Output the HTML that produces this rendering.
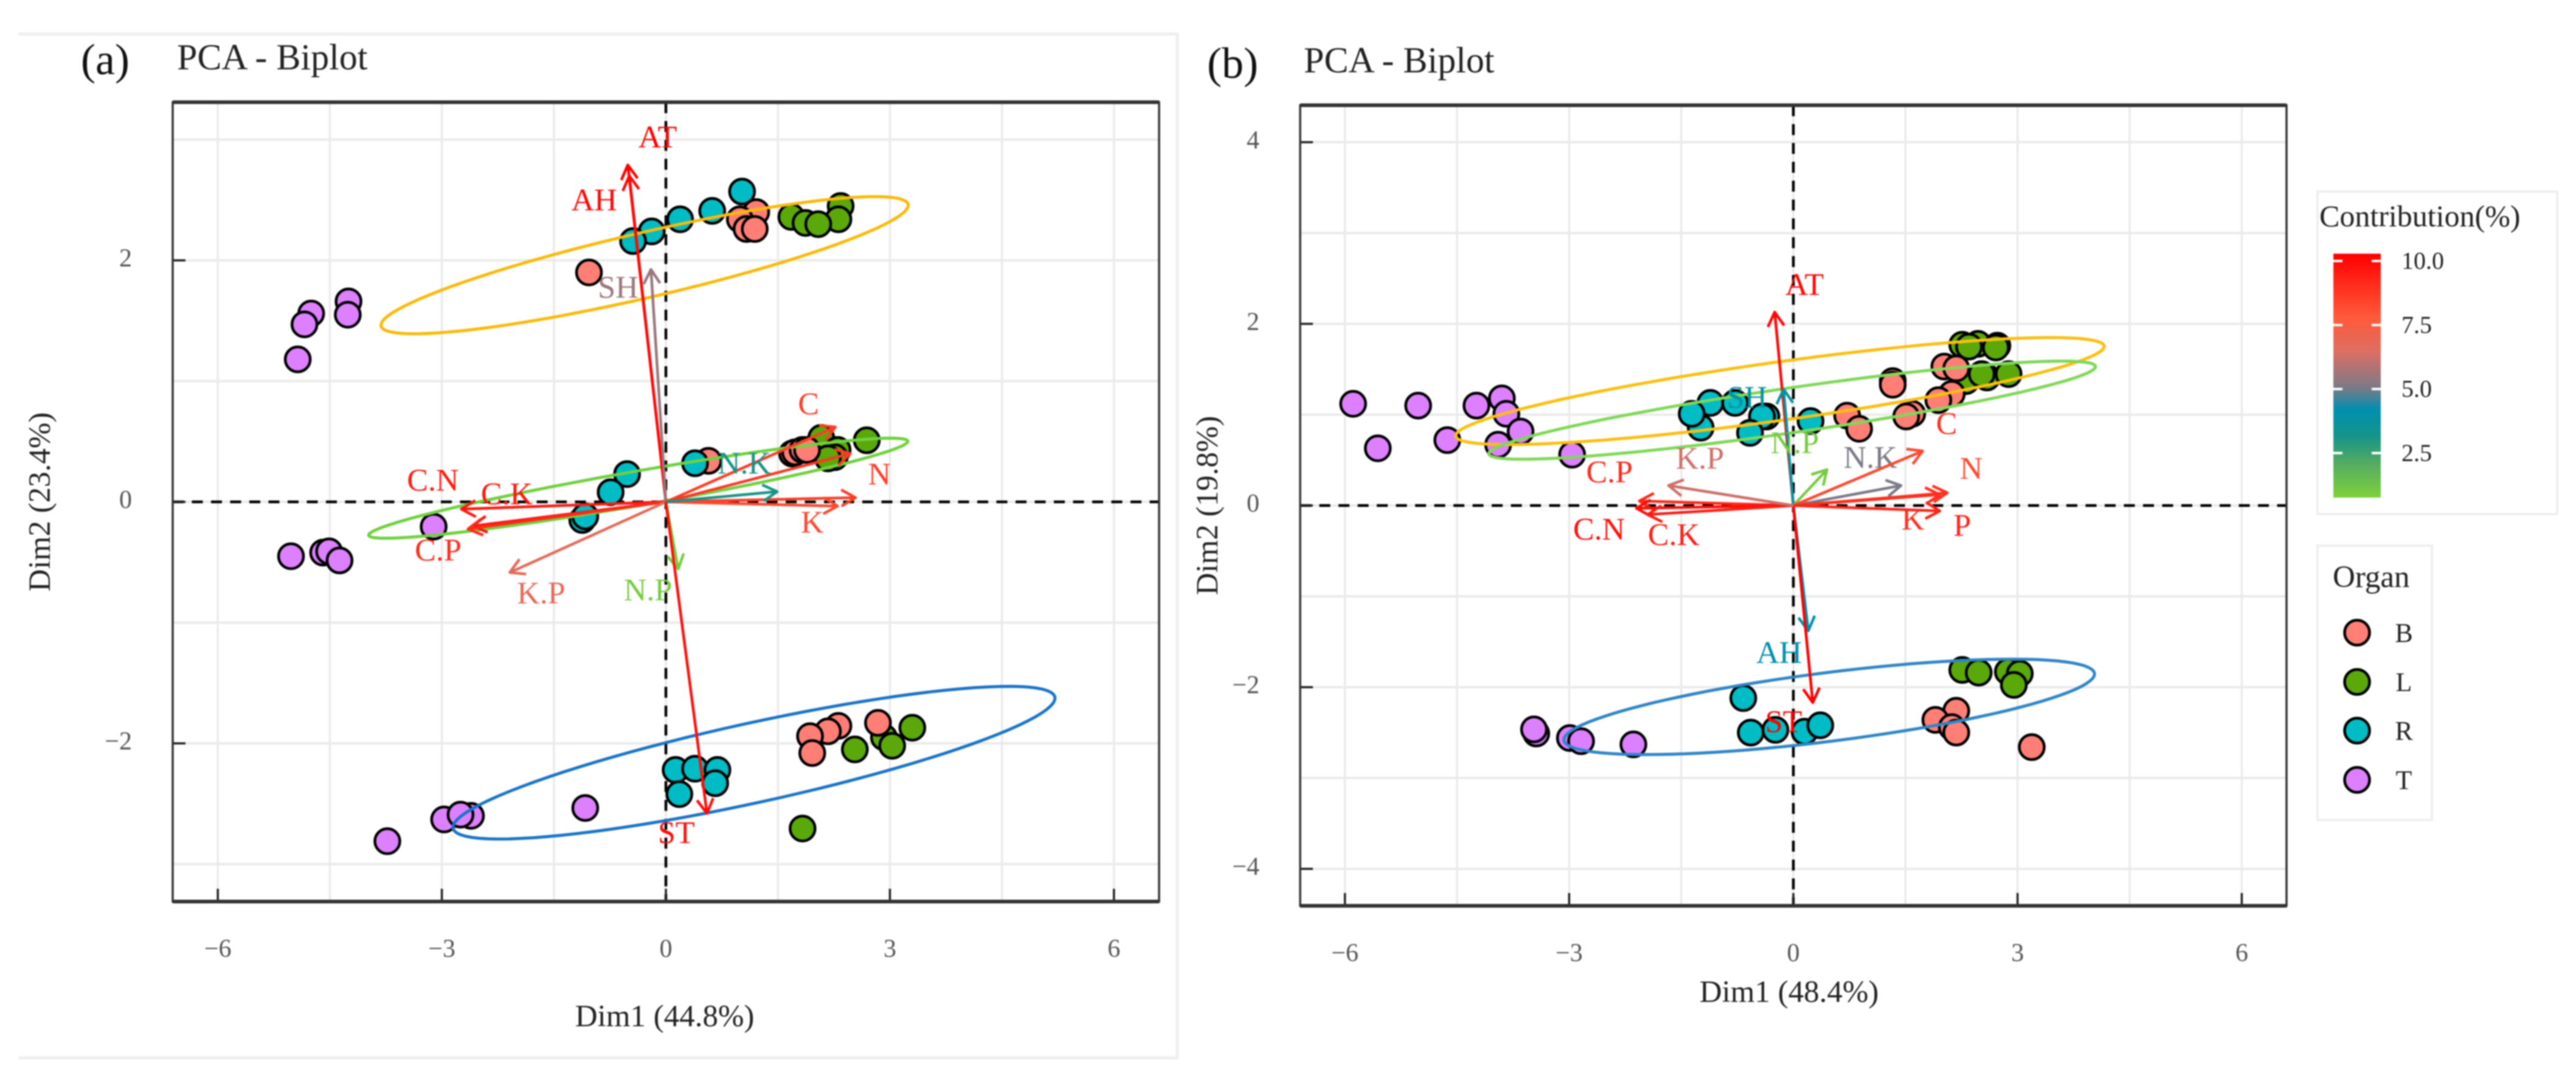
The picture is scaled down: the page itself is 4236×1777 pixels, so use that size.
<!DOCTYPE html>
<html lang="en">
<head>
<meta charset="utf-8">
<title>PCA Biplot</title>
<style>
html,body{margin:0;padding:0;background:#fff;}
svg{display:block;filter:blur(1px);}
text{font-family:"Liberation Serif",serif;}
</style>
</head>
<body>
<svg id="chart" xmlns="http://www.w3.org/2000/svg" width="4236" height="1777" viewBox="0 0 4236 1777">
  <defs>
    <linearGradient id="contribGrad" x1="0" y1="0" x2="0" y2="1">
      <stop offset="0" stop-color="#ff0000"/>
      <stop offset="0.26" stop-color="#ff5a3a"/>
      <stop offset="0.4" stop-color="#dd6e62"/>
      <stop offset="0.55" stop-color="#7a7a88"/>
      <stop offset="0.64" stop-color="#008fb0"/>
      <stop offset="0.75" stop-color="#169488"/>
      <stop offset="0.86" stop-color="#55ac62"/>
      <stop offset="1" stop-color="#7fd13b"/>
    </linearGradient>
  </defs>
  <rect x="0" y="0" width="4236" height="1777" fill="#ffffff"/>
  <path d="M30 56H1936V1739H30" fill="none" stroke="#efefef" stroke-width="5"/>

  <text x="173" y="122" font-size="72" text-anchor="middle" fill="#111">(a)</text>
  <text x="291" y="114" font-size="60" fill="#222">PCA - Biplot</text>
  <text x="2027" y="128" font-size="72" text-anchor="middle" fill="#111">(b)</text>
  <text x="2144" y="119" font-size="60" fill="#222">PCA - Biplot</text>

  <g id="panelA"></g>
  <g id="panelB"></g>

  <text x="1093" y="1687" font-size="51" text-anchor="middle" fill="#222">Dim1 (44.8%)</text>
  <text transform="translate(82,825) rotate(-90)" font-size="51" text-anchor="middle" fill="#222">Dim2 (23.4%)</text>
  <text x="2942" y="1647" font-size="51" text-anchor="middle" fill="#222">Dim1 (48.4%)</text>
  <text transform="translate(2002,831) rotate(-90)" font-size="51" text-anchor="middle" fill="#222">Dim2 (19.8%)</text>

  <g>
    <rect x="3811" y="315" width="394" height="530" fill="#fff" stroke="#efefef" stroke-width="4"/>
    <text x="3814" y="372" font-size="50" fill="#222">Contribution(%)</text>
    <rect x="3837" y="417" width="78" height="401" fill="url(#contribGrad)"/>
    <g id="colorbarTicks"></g>
  </g>

  <g>
    <rect x="3811" y="897" width="188" height="451" fill="#fff" stroke="#efefef" stroke-width="4"/>
    <text x="3836" y="965" font-size="51" fill="#222">Organ</text>
    <g>
      <circle cx="3876" cy="1040" r="20.5" fill="#ff7f76" stroke="#000" stroke-width="4.5"/>
      <text x="3953" y="1055" font-size="44" text-anchor="middle" fill="#222">B</text>
    </g>
    <g>
      <circle cx="3876" cy="1121" r="20.5" fill="#5aa80a" stroke="#000" stroke-width="4.5"/>
      <text x="3953" y="1136" font-size="44" text-anchor="middle" fill="#222">L</text>
    </g>
    <g>
      <circle cx="3876" cy="1201" r="20.5" fill="#00bcc4" stroke="#000" stroke-width="4.5"/>
      <text x="3953" y="1216" font-size="44" text-anchor="middle" fill="#222">R</text>
    </g>
    <g>
      <circle cx="3876" cy="1282" r="20.5" fill="#dd80ff" stroke="#000" stroke-width="4.5"/>
      <text x="3953" y="1297" font-size="44" text-anchor="middle" fill="#222">T</text>
    </g>
  </g>
</svg>

<script>
// ---------- shared tick labels ----------
const xTickValues = [-6, -3, 0, 3, 6];
const xGridValues = [-6, -4.5, -3, -1.5, 0, 1.5, 3, 4.5, 6];
const colorbarBreaks = [10, 7.5, 5, 2.5];
const colorbarLabels = ["10.0", "7.5", "5.0", "2.5"];
const organOrder = ["T", "L", "B", "R"];

// ---------- panel (a) scores ----------
const aBx = [1.21, 0.99, 1.08, 1.19, -1.03, 0.57, 1.69, 1.73, 1.83, 1.89, 2.31, 2.17, 1.93, 1.96, 2.84];
const aBy = [2.40, 2.34, 2.26, 2.26, 1.90, 0.34, 0.40, 0.41, 0.43, 0.43, -1.855, -1.90, -1.94, -2.08, -1.83];
const aLx = [2.34, 2.31, 1.68, 1.87, 2.04, 2.69, 2.08, 2.30, 2.26, 2.17, 3.30, 2.92, 3.03, 2.53, 1.83];
const aLy = [2.45, 2.34, 2.36, 2.31, 2.30, 0.51, 0.53, 0.43, 0.37, 0.36, -1.87, -1.95, -2.02, -2.05, -2.705];
const aRx = [1.02, 0.62, 0.19, -0.19, -0.44, 0.39, -0.52, -0.74, -1.12, -1.08, 0.13, 0.39, 0.69, 0.66, 0.18];
const aRy = [2.57, 2.41, 2.34, 2.24, 2.16, 0.32, 0.23, 0.08, -0.15, -0.12, -2.22, -2.21, -2.22, -2.33, -2.42];
const aTx = [-4.25, -4.26, -4.75, -4.84, -4.93, -3.11, -5.02, -4.59, -4.51, -4.37, -2.61, -2.97, -2.75, -1.08, -3.73];
const aTy = [1.66, 1.55, 1.56, 1.47, 1.18, -0.205, -0.45, -0.42, -0.41, -0.485, -2.60, -2.63, -2.59, -2.535, -2.81];

// ---------- panel (a) loadings ----------
const aVarNames = ["AT", "AH", "SH", "C", "P", "N", "K", "N.K", "C.N", "C.K", "C.P", "K.P", "N.P", "ST"];
const aVarX = [-0.51, -0.49, -0.20, 2.27, 2.47, 2.54, 2.30, 1.49, -2.74, -2.59, -2.65, -2.09, 0.165, 0.55];
const aVarY = [2.79, 2.70, 1.925, 0.62, 0.40, 0.035, -0.035, 0.085, -0.06, -0.20, -0.225, -0.585, -0.556, -2.58];
const aVarContrib = [10, 9.8, 5.4, 8.3, 8.5, 8.3, 8, 3.2, 9.3, 9.4, 8.8, 6.5, 1, 9.6];
const aLabelX = [-0.11, -0.96, -0.64, 1.91, null, 2.86, 1.96, 1.05, -3.12, -2.13, -3.05, -1.67, -0.24, 0.14];
const aLabelY = [3.02, 2.50, 1.775, 0.81, null, 0.23, -0.17, 0.32, 0.18, 0.065, -0.40, -0.755, -0.73, -2.74];

// ---------- panel (a) ellipses: centre plus semi-axis vectors, data units ----------
const aEllipseNames = ["yellow", "green", "blue"];
const aEllipseCx = [-0.285, -0.37, 1.18];
const aEllipseCy = [1.96, 0.113, -2.16];
const aEllipseAx = [3.53, 3.61, 4.03];
const aEllipseAy = [0.504, 0.39, 0.544];
const aEllipseBx = [0.098, 0.04, 0.114];
const aEllipseBy = [-0.262, -0.14, -0.322];

// ---------- panel (b) scores ----------
const bBx = [2.02, 2.18, 1.33, 1.33, 2.12, 1.94, 1.59, 1.51, 0.72, 0.88, 2.18, 1.90, 2.12, 2.18, 3.19];
const bBy = [1.53, 1.51, 1.37, 1.33, 1.23, 1.16, 1.01, 0.98, 0.99, 0.845, -2.26, -2.36, -2.44, -2.50, -2.66];
const bLx = [2.26, 2.47, 2.35, 2.73, 2.71, 2.31, 2.59, 2.52, 2.88, 2.26, 2.48, 2.87, 3.03, 2.95];
const bLy = [1.77, 1.78, 1.75, 1.76, 1.74, 1.37, 1.41, 1.447, 1.447, -1.81, -1.84, -1.83, -1.85, -1.975];
const bRx = [-1.24, -1.11, -0.78, -0.36, -0.42, -1.36, -0.58, 0.23, -0.67, -0.57, -0.24, 0.15, 0.36];
const bRy = [0.857, 1.13, 1.13, 0.98, 0.98, 1.01, 0.80, 0.93, -2.12, -2.50, -2.47, -2.49, -2.42];
const bTx = [-5.89, -5.02, -4.24, -3.90, -3.84, -3.65, -4.63, -3.95, -5.56, -2.96, -3.44, -3.47, -2.99, -2.84, -2.14];
const bTy = [1.12, 1.10, 1.10, 1.18, 1.01, 0.815, 0.72, 0.67, 0.63, 0.56, -2.51, -2.465, -2.56, -2.595, -2.63];

// ---------- panel (b) loadings ----------
const bVarNames = ["AT", "AH", "SH", "ST", "N.P", "N.K", "N", "C", "K", "P", "C.P", "C.N", "C.K", "K.P"];
const bVarX = [-0.25, 0.20, -0.13, 0.26, 0.45, 1.44, 1.73, 2.06, 1.96, 1.96, -2.06, -2.10, -1.95, -1.67];
const bVarY = [2.13, -1.38, 1.28, -2.17, 0.395, 0.22, 0.60, 0.14, 0.12, -0.06, 0.05, -0.03, -0.10, 0.22];
const bVarContrib = [9.8, 4, 3.7, 10, 1, 5, 8, 8.6, 8.7, 9, 8.9, 9.6, 9.2, 6];
const bLabelX = [0.15, -0.19, -0.62, -0.13, 0.02, 1.03, 2.38, 2.05, 1.60, 2.26, -2.46, -2.60, -1.60, -1.25];
const bLabelY = [2.43, -1.62, 1.19, -2.38, 0.69, 0.53, 0.41, 0.90, -0.15, -0.22, 0.37, -0.26, -0.32, 0.52];

// ---------- panel (b) ellipses ----------
const bEllipseNames = ["yellow", "green", "blue"];
const bEllipseCx = [-0.18, -0.016, 0.48];
const bEllipseCy = [1.26, 1.05, -2.217];
const bEllipseAx = [4.34, 4.06, 3.55];
const bEllipseAy = [0.496, 0.482, 0.368];
const bEllipseBx = [0.054, 0.041, 0.057];
const bEllipseBy = [-0.318, -0.244, -0.375];

// ---------- styling, separate from data ----------
const organFill = { B: "#ff7f76", L: "#5aa80a", R: "#00bcc4", T: "#dd80ff" };
const scaleStops = [0.77, 3.2, 4.0, 5.0, 6.2, 7.5, 10];
const scaleColors = ["#7fd13b", "#169488", "#008fb0", "#7a7a88", "#dd6e62", "#ff5a3a", "#ff0000"];
const SVG_NS = "http://www.w3.org/2000/svg";

function make(parent, tag, attrs) {
  const el = document.createElementNS(SVG_NS, tag);
  Object.keys(attrs).forEach(function (k) { el.setAttribute(k, attrs[k]); });
  parent.appendChild(el);
  return el;
}
function hexToRgb(h) {
  return [parseInt(h.substr(1, 2), 16), parseInt(h.substr(3, 2), 16), parseInt(h.substr(5, 2), 16)];
}
function contribColor(v) {
  if (v <= scaleStops[0]) return scaleColors[0];
  for (let i = 1; i < scaleStops.length; i++) {
    if (v <= scaleStops[i]) {
      const t = (v - scaleStops[i - 1]) / (scaleStops[i] - scaleStops[i - 1]);
      const a = hexToRgb(scaleColors[i - 1]);
      const b = hexToRgb(scaleColors[i]);
      return "rgb(" + a.map(function (c, j) { return Math.round(c + (b[j] - c) * t); }).join(",") + ")";
    }
  }
  return scaleColors[scaleColors.length - 1];
}

function drawPanel(cfg) {
  const g = cfg.root;
  const sx = function (v) { return cfg.x0 + v * cfg.kx; };
  const sy = function (v) { return cfg.y0 - v * cfg.ky; };
  const p = cfg.prefix;

  // grid
  xGridValues.forEach(function (v) {
    const l = make(g, "line", { x1: sx(v), x2: sx(v), y1: cfg.top, y2: cfg.bottom, stroke: "#eaeaea", "stroke-width": 3.5 });
    
    
  });
  cfg.yGrid.forEach(function (v) {
    const l = make(g, "line", { x1: cfg.left, x2: cfg.right, y1: sy(v), y2: sy(v), stroke: "#ebebeb", "stroke-width": 4 });
    
    
  });

  // zero lines
  const hz = make(g, "line", { x1: cfg.left, x2: cfg.right, y1: sy(0), y2: sy(0), stroke: "#000", "stroke-width": 4.5, "stroke-dasharray": "18 13.5" });
  
  
  const vz = make(g, "line", { x1: sx(0), x2: sx(0), y1: cfg.top, y2: cfg.bottom, stroke: "#000", "stroke-width": 4.5, "stroke-dasharray": "18 13" });
  
  

  // ticks
  xTickValues.forEach(function (v) {
    const t = make(g, "line", { x1: sx(v), x2: sx(v), y1: cfg.bottom - 21, y2: cfg.bottom, stroke: "#222", "stroke-width": 3.5 });
    
    
    const lbl = make(g, "text", { x: sx(v), y: cfg.xTickBaseline, "font-size": 42, "text-anchor": "middle", fill: "#555" });
    
    
    lbl.textContent = v < 0 ? "\u2212" + Math.abs(v) : String(v);
  });
  cfg.yTicks.forEach(function (v) {
    const t = make(g, "line", { x1: cfg.left, x2: cfg.left + 21, y1: sy(v), y2: sy(v), stroke: "#222", "stroke-width": 3.5 });
    
    
    const lbl = make(g, "text", { x: cfg.left - 67, y: sy(v) + 10, "font-size": 42, "text-anchor": "end", fill: "#555" });
    
    
    lbl.textContent = v < 0 ? "\u2212" + Math.abs(v) : String(v);
  });

  // score points
  organOrder.forEach(function (organ) {
    const xs = cfg.points[organ][0];
    const ys = cfg.points[organ][1];
    xs.forEach(function (x, i) {
      const c = make(g, "circle", { cx: sx(x), cy: sy(ys[i]), r: 20.5, fill: organFill[organ], stroke: "#000", "stroke-width": 4.5 });
      
      
    });
  });

  // ellipses
  cfg.ell.names.forEach(function (name, i) {
    let pts = [];
    for (let k = 0; k < 96; k++) {
      const a = k / 96 * Math.PI * 2;
      const dx = cfg.ell.cx[i] + cfg.ell.ax[i] * Math.cos(a) + cfg.ell.bx[i] * Math.sin(a);
      const dy = cfg.ell.cy[i] + cfg.ell.ay[i] * Math.cos(a) + cfg.ell.by[i] * Math.sin(a);
      pts.push(sx(dx).toFixed(1) + "," + sy(dy).toFixed(1));
    }
    const e = make(g, "polygon", { points: pts.join(" "), fill: "none", stroke: cfg.ellColors[i], "stroke-width": cfg.ellWidth });
    
    
  });

  // loading arrows and labels
  cfg.vars.names.forEach(function (name, i) {
    const color = contribColor(cfg.vars.contrib[i]);
    const tx = sx(cfg.vars.x[i]);
    const ty = sy(cfg.vars.y[i]);
    const ox = sx(0);
    const oy = sy(0);
    const ang = Math.atan2(ty - oy, tx - ox);
    const len = 27;
    const spread = 0.52;
    const h1x = tx - len * Math.cos(ang - spread);
    const h1y = ty - len * Math.sin(ang - spread);
    const h2x = tx - len * Math.cos(ang + spread);
    const h2y = ty - len * Math.sin(ang + spread);
    const d = "M" + ox + " " + oy + "L" + tx + " " + ty + "M" + h1x + " " + h1y + "L" + tx + " " + ty + "L" + h2x + " " + h2y;
    const a = make(g, "path", { d: d, fill: "none", stroke: color, "stroke-width": 4.5, "stroke-linejoin": "round" });
    
    
    if (cfg.vars.lx[i] !== null) {
      const t = make(g, "text", { x: sx(cfg.vars.lx[i]), y: sy(cfg.vars.ly[i]) + 17, "font-size": 52, "text-anchor": "middle", fill: color });
      
      
      t.textContent = name;
    }
  });

  // panel border
  const border = make(g, "rect", { x: cfg.left, y: cfg.top, width: cfg.right - cfg.left, height: cfg.bottom - cfg.top, fill: "none", stroke: "#333", "stroke-width": 3.5 });
  
  
  const topEdge = make(g, "line", { x1: cfg.left, x2: cfg.right, y1: cfg.top, y2: cfg.top, stroke: "#333", "stroke-width": 6 });
  
  
  const bottomEdge = make(g, "line", { x1: cfg.left, x2: cfg.right, y1: cfg.bottom, y2: cfg.bottom, stroke: "#333", "stroke-width": 6 });
  
  
}

drawPanel({
  root: document.getElementById("panelA"), prefix: "panel-a",
  x0: 1095, kx: 122.8, y0: 825, ky: 198.5,
  left: 284, right: 1906, top: 168, bottom: 1482,
  xTickBaseline: 1573,
  yTicks: [2, 0, -2], yGrid: [3, 2, 1, 0, -1, -2, -3],
  points: { B: [aBx, aBy], L: [aLx, aLy], R: [aRx, aRy], T: [aTx, aTy] },
  ell: { names: aEllipseNames, cx: aEllipseCx, cy: aEllipseCy, ax: aEllipseAx, ay: aEllipseAy, bx: aEllipseBx, by: aEllipseBy },
  ellColors: ["#fbb909", "#6fd13f", "#1a74c9"], ellWidth: 5,
  vars: { names: aVarNames, x: aVarX, y: aVarY, contrib: aVarContrib, lx: aLabelX, ly: aLabelY }
});

drawPanel({
  root: document.getElementById("panelB"), prefix: "panel-b",
  x0: 2949, kx: 122.9, y0: 831, ky: 149.3,
  left: 2138, right: 3760, top: 173, bottom: 1489,
  xTickBaseline: 1580,
  yTicks: [4, 2, 0, -2, -4], yGrid: [4, 3, 2, 1, 0, -1, -2, -3, -4],
  points: { B: [bBx, bBy], L: [bLx, bLy], R: [bRx, bRy], T: [bTx, bTy] },
  ell: { names: bEllipseNames, cx: bEllipseCx, cy: bEllipseCy, ax: bEllipseAx, ay: bEllipseAy, bx: bEllipseBx, by: bEllipseBy },
  ellColors: ["#fbbf0e", "#7fd858", "#2f86c8"], ellWidth: 5,
  vars: { names: bVarNames, x: bVarX, y: bVarY, contrib: bVarContrib, lx: bLabelX, ly: bLabelY }
});

// colour bar ticks and labels
(function () {
  const g = document.getElementById("colorbarTicks");
  const cy = function (v) { return 429 + (10 - v) * 42.1; };
  colorbarBreaks.forEach(function (v, i) {
    const y = cy(v);
    const l = make(g, "line", { x1: 3837, x2: 3852, y1: y, y2: y, stroke: "#fff", "stroke-width": 4 });
    
    
    const r = make(g, "line", { x1: 3900, x2: 3915, y1: y, y2: y, stroke: "#fff", "stroke-width": 4 });
    
    
    const t = make(g, "text", { x: 3949, y: y + 13, "font-size": 40, fill: "#222" });
    
    
    t.textContent = colorbarLabels[i];
  });
})();
</script>
</body>
</html>
